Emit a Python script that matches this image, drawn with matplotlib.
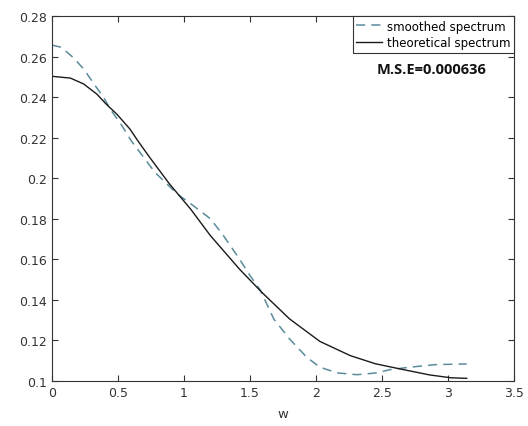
import numpy as np
import matplotlib.pyplot as plt

# values
w_theo = [0.0, 0.14, 0.24, 0.34, 0.41, 0.49, 0.59, 0.65, 0.74, 0.89, 1.05, 1.2,
          1.42, 1.59, 1.8, 2.03, 2.26, 2.45, 2.64, 2.86, 3.02, 3.1416]
theo = [0.2503, 0.2494, 0.2465, 0.2415, 0.2366, 0.2317, 0.2243, 0.2185, 0.2103, 0.1972,
        0.1848, 0.1717, 0.1552, 0.1437, 0.1306, 0.1195, 0.1125, 0.1085, 0.1059, 0.1030,
        0.1016, 0.1013]

w_smooth = [0.0, 0.07, 0.16, 0.24, 0.31, 0.39, 0.45, 0.53, 0.6, 0.78, 0.95, 1.07, 1.2,
            1.29, 1.42, 1.5, 1.58, 1.68, 1.8, 1.93, 2.03, 2.16, 2.31, 2.46, 2.56, 2.71,
            2.91, 3.1416]
smooth = [0.2657, 0.2646, 0.2596, 0.2539, 0.2473, 0.2399, 0.2333, 0.2259, 0.2185, 0.2029,
          0.1922, 0.1865, 0.1800, 0.1725, 0.1602, 0.1520, 0.1446, 0.1306, 0.1207, 0.1117,
          0.1068, 0.1040, 0.1031, 0.1040, 0.1056, 0.1068, 0.1081, 0.1084]

mse_label = "M.S.E=0.000636"

fig = plt.figure(figsize=(5.28, 4.27), dpi=100)
ax = fig.add_axes([0.0985, 0.1054, 0.875, 0.8546])

ax.plot(w_smooth, smooth, "--", color="#5b8c9c", lw=1.1, dashes=(6, 4), label="smoothed spectrum")
ax.plot(w_theo, theo, "-", color="#1a1a1a", lw=1.0, label="theoretical spectrum")

ax.set_xlim(0, 3.5)
ax.set_ylim(0.1, 0.28)
ax.set_xticks([0, 0.5, 1, 1.5, 2, 2.5, 3, 3.5])
ax.set_xticklabels(["0", "0.5", "1", "1.5", "2", "2.5", "3", "3.5"])
ax.set_yticks(np.arange(0.1, 0.281, 0.02))
ax.set_yticklabels(["0.1", "0.12", "0.14", "0.16", "0.18", "0.2", "0.22", "0.24", "0.26", "0.28"])
ax.tick_params(direction="in", top=True, right=True, length=4, width=0.8,
               labelsize=9, colors="#333333", labelcolor="#333333")
for s in ax.spines.values():
    s.set_color("#333333")
    s.set_linewidth(0.8)
ax.set_xlabel("w", fontsize=9.5, color="#333333", labelpad=6)

leg = ax.legend(loc="upper right", bbox_to_anchor=(1, 1), borderaxespad=0, fontsize=8.5,
                fancybox=False, framealpha=1, edgecolor="#333333", handlelength=2.2,
                handletextpad=0.4, borderpad=0.3, labelspacing=0.3)
leg.get_frame().set_linewidth(0.8)

ax.text(0.822, 0.855, mse_label, transform=ax.transAxes, ha="center", va="center",
        fontsize=10.5, fontweight="bold", color="#111111", family="Open Sans")

fig.savefig("out.png", dpi=100)
